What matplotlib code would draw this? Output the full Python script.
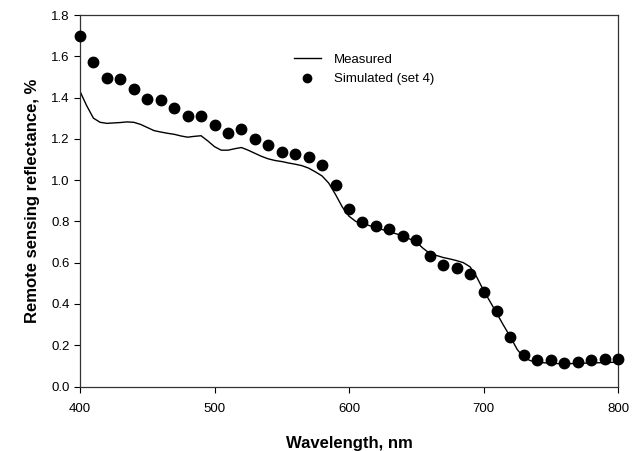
import matplotlib
matplotlib.use("Agg")
import matplotlib.pyplot as plt

plt.rcParams['font.family'] = ['Liberation Sans', 'DejaVu Sans']

# Simulated (set 4) points
sim_wl = list(range(400, 801, 10))
sim_val = [1.70, 1.57, 1.494, 1.488, 1.442, 1.393, 1.388, 1.35, 1.311, 1.311,
           1.267, 1.228, 1.249, 1.197, 1.171, 1.137, 1.128, 1.113, 1.073, 0.976,
           0.86, 0.795, 0.777, 0.762, 0.73, 0.712, 0.631, 0.59, 0.576, 0.547,
           0.458, 0.366, 0.24, 0.155, 0.126, 0.126, 0.115, 0.12, 0.126, 0.131,
           0.134]

# Measured spectrum
meas_wl = list(range(400, 801, 5))
meas_val = [1.43, 1.36, 1.30, 1.28, 1.275, 1.277, 1.279, 1.282, 1.28, 1.27,
            1.255, 1.24, 1.233, 1.227, 1.222, 1.214, 1.208, 1.212, 1.215, 1.19,
            1.162, 1.145, 1.145, 1.152, 1.158, 1.145, 1.13, 1.115, 1.103, 1.095,
            1.09, 1.083, 1.077, 1.07, 1.058, 1.04, 1.02, 0.985, 0.93, 0.87,
            0.825, 0.80, 0.79, 0.78, 0.77, 0.76, 0.75, 0.74, 0.73, 0.715,
            0.70, 0.67, 0.645, 0.635, 0.625, 0.618, 0.61, 0.60, 0.58, 0.53,
            0.466, 0.41, 0.353, 0.295, 0.24, 0.18, 0.14, 0.125, 0.118, 0.115,
            0.113, 0.111, 0.11, 0.111, 0.112, 0.113, 0.114, 0.115, 0.116, 0.117,
            0.118]

xticks = [400, 500, 600, 700, 800]
yticks = [0.0, 0.2, 0.4, 0.6, 0.8, 1.0, 1.2, 1.4, 1.6, 1.8]

fig = plt.figure(figsize=(6.37, 4.51), dpi=100)
ax = fig.add_axes([80/637, 1-386.5/451, 538/637, 371.5/451])

ax.plot(meas_wl, meas_val, color='black', lw=1.0, label='Measured')
ax.plot(sim_wl, sim_val, 'o', color='black', ms=7.5, clip_on=False,
        label='Simulated (set 4)', zorder=3)

ax.set_xlim(400, 800)
ax.set_ylim(0, 1.8)
ax.set_xticks(xticks)
ax.set_yticks(yticks)
ax.set_yticklabels([f"{v:.1f}" for v in yticks])
ax.tick_params(direction='out', length=4, width=0.8, labelsize=9.5, colors='black')
ax.tick_params(axis='x', pad=8)
ax.tick_params(top=False, right=False)
for s in ax.spines.values():
    s.set_linewidth(0.9)
    s.set_color('#333333')

ax.set_xlabel('Wavelength, nm', fontsize=12, fontweight='bold', labelpad=15)
ax.set_ylabel('Remote sensing reflectance, %', fontsize=12, fontweight='bold', labelpad=8)

ax.legend(loc='upper left', bbox_to_anchor=(0.398, 0.896), frameon=False,
          fontsize=9.5, handlelength=2.0, handletextpad=1.0, borderpad=0,
          borderaxespad=0, labelspacing=0.55, markerscale=0.8)

fig.savefig('out.png', dpi=100)
